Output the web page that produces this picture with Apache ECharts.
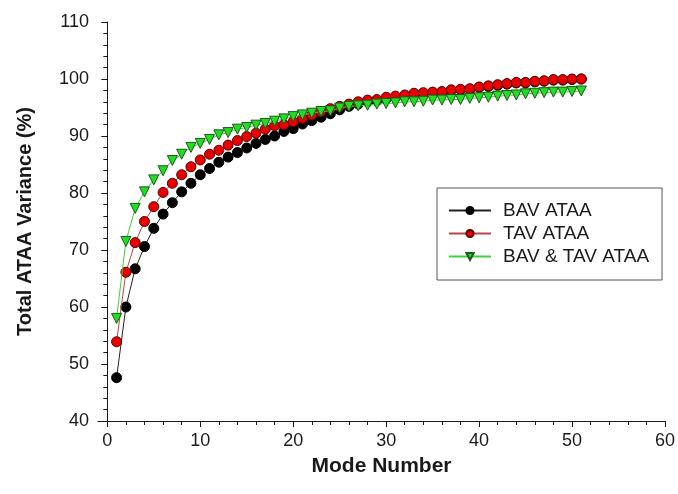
<!DOCTYPE html>
<html>
<head>
<meta charset="utf-8">
<script src="https://cdn.jsdelivr.net/npm/echarts@6/dist/echarts.min.js"></script>
<style>
  html, body { margin: 0; padding: 0; background: #fff; }
  #chart { width: 678px; height: 494px; }
</style>
</head>
<body>
<div id="chart"></div>
<script>
// Cumulative variance captured by the first N modes
const modes = Array.from({ length: 51 }, (_, i) => i + 1);

const bavAtaa = [
  47.6, 60.0, 66.7, 70.6, 73.8, 76.3, 78.3, 80.2, 81.7, 83.2,
  84.3, 85.4, 86.3, 87.1, 87.9, 88.7, 89.4, 90.0, 90.8, 91.3,
  92.1, 92.7, 93.3, 93.9, 94.6, 95.2, 95.6, 96.0, 96.2, 96.5,
  96.8, 97.0, 97.3, 97.4, 97.6, 97.7, 98.0, 98.1, 98.2, 98.5,
  98.7, 98.9, 99.1, 99.3, 99.3, 99.5, 99.6, 99.8, 99.8, 99.9,
  100.0
];

const tavAtaa = [
  53.9, 66.1, 71.3, 75.0, 77.6, 80.1, 81.7, 83.2, 84.6, 85.8,
  86.8, 87.5, 88.4, 89.2, 89.9, 90.5, 91.2, 91.8, 92.0, 92.5,
  93.1, 93.7, 94.3, 94.8, 95.2, 95.6, 96.0, 96.3, 96.4, 96.8,
  97.0, 97.2, 97.5, 97.6, 97.7, 97.8, 98.1, 98.2, 98.3, 98.6,
  98.8, 99.0, 99.2, 99.4, 99.4, 99.6, 99.7, 99.9, 99.9, 100.0,
  100.0
];

const bothAtaa = [
  58.0, 71.5, 77.3, 80.2, 82.3, 83.9, 85.7, 86.8, 88.0, 88.7,
  89.4, 90.2, 90.6, 91.2, 91.5, 91.9, 92.2, 92.6, 93.0, 93.4,
  93.7, 94.0, 94.3, 94.4, 94.9, 95.2, 95.3, 95.4, 95.6, 95.7,
  95.8, 96.0, 96.0, 96.1, 96.3, 96.3, 96.4, 96.4, 96.6, 96.7,
  96.8, 97.0, 97.1, 97.2, 97.4, 97.5, 97.6, 97.7, 97.7, 97.8,
  97.9
];

const xMajorTicks = [0, 10, 20, 30, 40, 50, 60];
const xMinorTicks = Array.from({ length: 31 }, (_, i) => i * 2);

const FONT = '"Liberation Sans", Arial, sans-serif';
const INK = '#1a1a1a';

const pair = (ys) => modes.map((m, i) => [m, ys[i]]);

const chart = echarts.init(document.getElementById('chart'), null, { renderer: 'canvas' });

chart.setOption({
  animation: false,
  backgroundColor: '#ffffff',
  grid: { left: 98, right: 13, top: 22, bottom: 73 },
  xAxis: [
    {
      type: 'value',
      min: -1,
      max: 60,
      name: 'Mode Number',
      nameLocation: 'middle',
      nameGap: 35,
      nameTextStyle: { fontFamily: FONT, fontSize: 21, fontWeight: 'bold', color: INK },
      axisLine: { show: true, lineStyle: { color: INK, width: 1 } },
      axisTick: { show: true, length: 6, inside: false, customValues: xMajorTicks, lineStyle: { color: INK } },
      axisLabel: { customValues: xMajorTicks, margin: 11, fontFamily: FONT, fontSize: 18, color: INK },
      splitLine: { show: false }
    },
    {
      // minor ticks every 2 modes
      type: 'value',
      min: -1,
      max: 60,
      position: 'bottom',
      axisLine: { show: false },
      axisTick: { show: true, length: 4, customValues: xMinorTicks, lineStyle: { color: INK } },
      axisLabel: { show: false },
      splitLine: { show: false }
    }
  ],
  yAxis: {
    type: 'value',
    min: 40,
    max: 110,
    interval: 10,
    name: 'Total ATAA Variance (%)',
    nameLocation: 'middle',
    nameRotate: 90,
    nameGap: 63,
    nameTextStyle: { fontFamily: FONT, fontSize: 20, fontWeight: 'bold', color: INK },
    axisLine: { show: true, lineStyle: { color: INK, width: 1 } },
    axisTick: { show: true, length: 6, lineStyle: { color: INK } },
    minorTick: { show: true, splitNumber: 5, length: 4, lineStyle: { color: INK } },
    axisLabel: { margin: 9, fontFamily: FONT, fontSize: 18, color: INK },
    splitLine: { show: false }
  },
  legend: {
    orient: 'vertical',
    left: 437,
    top: 188,
    padding: [13, 13, 14, 11],
    itemGap: 4,
    itemWidth: 42,
    itemHeight: 9,
    borderColor: '#555555',
    borderWidth: 1,
    backgroundColor: '#ffffff',
    textStyle: { fontFamily: FONT, fontSize: 19, lineHeight: 19, color: INK, padding: [0, 0, 0, 7] },
    data: ['BAV ATAA', 'TAV ATAA', 'BAV & TAV ATAA']
  },
  series: [
    {
      name: 'BAV ATAA',
      type: 'line',
      data: pair(bavAtaa),
      symbol: 'circle',
      symbolSize: 10,
      lineStyle: { color: '#222222', width: 1 },
      itemStyle: { color: '#000000', borderColor: '#000000', borderWidth: 1 },
      z: 2
    },
    {
      name: 'TAV ATAA',
      type: 'line',
      data: pair(tavAtaa),
      symbol: 'circle',
      symbolSize: 10,
      lineStyle: { color: '#b84848', width: 1 },
      itemStyle: { color: '#e80000', borderColor: '#5a0000', borderWidth: 1 },
      z: 3
    },
    {
      name: 'BAV & TAV ATAA',
      type: 'line',
      data: pair(bothAtaa),
      symbol: 'triangle',
      symbolRotate: 180,
      symbolSize: 10,
      lineStyle: { color: '#3fcf3f', width: 1 },
      itemStyle: { color: '#22dd22', borderColor: '#1a5a1a', borderWidth: 1 },
      z: 4
    }
  ]
});
</script>
</body>
</html>
